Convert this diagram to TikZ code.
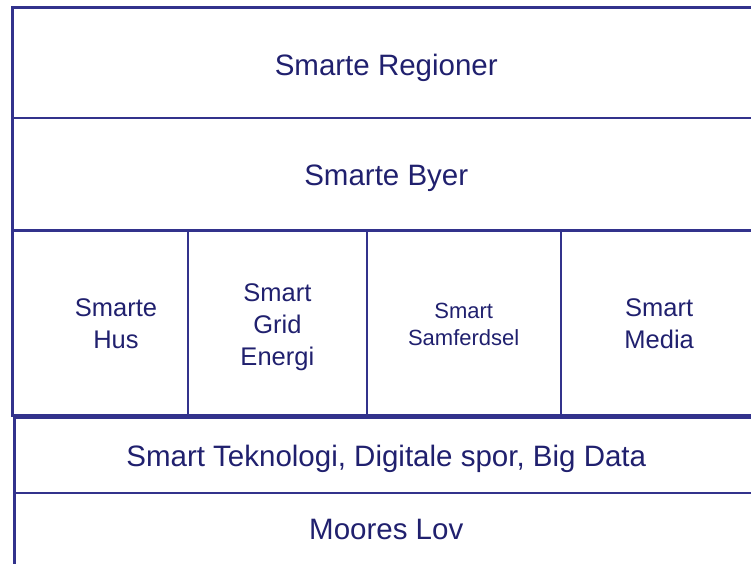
\documentclass[tikz,border=0pt]{standalone}
\usepackage{fontspec}
\setmainfont{Liberation Sans}
\usepackage{tikz}
\usetikzlibrary{positioning}

\definecolor{rammeblaa}{RGB}{50,50,140}
\definecolor{tekstblaa}{RGB}{32,32,110}

\tikzset{
  felt/.style={draw=rammeblaa, line width=2.2pt, anchor=north west, inner sep=0pt, outer sep=0pt},
  tekst/.style={text=tekstblaa, align=center, inner sep=0pt},
  stor/.style={font=\fontsize{29.5}{34}\selectfont},
  liten/.style={font=\fontsize{25.5}{32}\selectfont},
  minst/.style={font=\fontsize{22}{27}\selectfont}
}

\begin{document}
\begin{tikzpicture}[x=1pt, y=-1pt]
\useasboundingbox (0,0) rectangle (751,563);

% oeverste blokk
\node [felt, minimum width=747.5pt, minimum height=110.5pt] (regioner) at (12.5,7.5) {};
\node [felt, minimum width=747.5pt, minimum height=112.5pt] (byer) at (12.5,118) {};

% de fire feltene
\node [felt, minimum width=175.5pt, minimum height=185pt] (hus) at (12.5,230.5) {};
\node [felt, minimum width=178.7pt, minimum height=185pt] (grid) at (188,230.5) {};
\node [felt, minimum width=194pt, minimum height=185pt] (samferdsel) at (366.7,230.5) {};
\node [felt, minimum width=197pt, minimum height=185pt] (media) at (560.7,230.5) {};

% nederste blokk
\node [felt, minimum width=743.5pt, minimum height=75.5pt] (teknologi) at (14.5,417.5) {};
\node [felt, minimum width=743.5pt, minimum height=72pt] (lov) at (14.5,493) {};

% tekstene
\node [tekst, stor] (regionertekst) at ([yshift=-5pt]regioner.center) {Smarte Regioner};
\node [tekst, stor] (byertekst) at ([yshift=-4pt]byer.center) {Smarte Byer};
\node [tekst, liten] (hustekst) at (116,324) {Smarte\\Hus};
\node [tekst, liten] (gridtekst) at ([yshift=-4pt]grid.center) {Smart\\Grid\\Energi};
\node [tekst, minst] (samferdseltekst) at ([yshift=-1.5pt]samferdsel.center) {Smart\\Samferdsel};
\node [tekst, liten] (mediatekst) at ([yshift=-1pt]media.center) {Smart\\Media};
\node [tekst, stor] (teknologitekst) at ([yshift=-3.5pt]teknologi.center) {Smart Teknologi, Digitale spor, Big Data};
\node [tekst, stor] (lovtekst) at (lov.center) {Moores Lov};
\end{tikzpicture}
\end{document}
